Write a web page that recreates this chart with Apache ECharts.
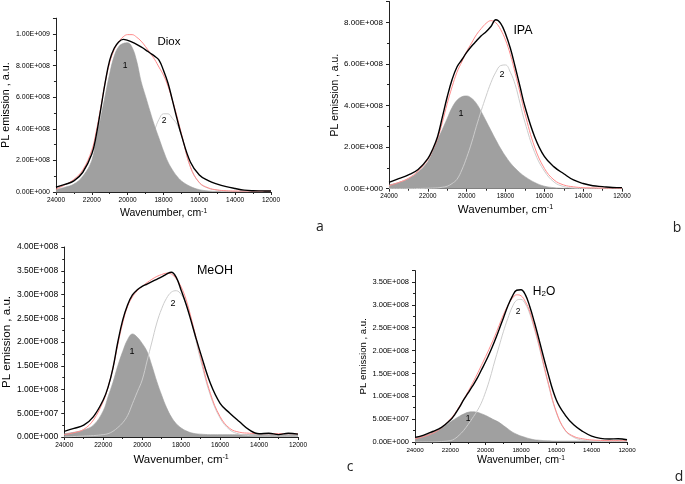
<!DOCTYPE html>
<html><head><meta charset="utf-8">
<script src="https://cdn.jsdelivr.net/npm/echarts@6/dist/echarts.min.js"></script>
<style>html,body{margin:0;padding:0;background:#fff}#c{width:685px;height:484px}</style>
</head><body><div id="c"></div>
<script>
// Wavenumber grid (cm^-1) shared by all curves
const wavenumbers = [24000,23500,23000,22500,22000,21750,21500,21250,21000,20750,20500,20250,20000,19750,19500,19250,19000,18750,18500,18250,18000,17750,17500,17250,17000,16500,16000,15500,15000,14500,14000,13500,13000,12500,12000];
const SCALE = 1e8; // values below are in units of 1E+008

// a: Diox
const dioxExp   = [0.3,0.48,0.7,1.25,2.4,3.6,5.25,6.95,8.35,9.1,9.5,9.66,9.6,9.48,9.34,9.18,9.0,8.8,8.6,8.35,7.7,6.9,5.8,4.66,3.6,1.9,1.08,0.72,0.5,0.34,0.22,0.12,0.08,0.07,0.06];
const dioxFit   = [0.18,0.45,0.8,1.4,2.65,3.85,5.35,6.95,8.2,9.0,9.5,9.82,9.96,9.96,9.8,9.55,9.2,8.8,8.4,7.9,7.4,6.7,5.8,4.8,3.7,1.6,0.6,0.26,0.13,0.08,0.06,0.06,0.06,0.06,0.06];
const dioxPeak1 = [0.15,0.3,0.5,1.0,2.0,3.4,4.7,6.1,7.5,8.6,9.2,9.4,9.45,9.15,8.3,7.0,6.05,5.1,4.2,3.4,2.6,1.9,1.4,1.0,0.7,0.35,0.15,0.07,0.03,0.015,0.01,0.01,0,0,0];
const dioxPeak2 = [0,0,0,0,0.01,0.02,0.03,0.05,0.08,0.12,0.2,0.3,0.5,0.75,1.1,1.6,2.3,3.1,3.9,4.6,4.95,4.95,4.65,4.3,3.6,1.58,0.58,0.24,0.12,0.07,0.05,0.04,0.03,0.03,0.03];

// b: IPA
const ipaExp   = [0.3,0.48,0.66,0.92,1.45,1.9,2.5,3.45,4.42,5.25,5.85,6.2,6.55,6.85,7.1,7.35,7.55,7.8,8.12,7.95,7.45,6.75,5.85,4.9,3.95,2.5,1.55,1.05,0.72,0.42,0.25,0.14,0.1,0.06,0.05];
const ipaFit   = [0.15,0.3,0.5,0.85,1.4,1.85,2.4,3.2,4.1,4.9,5.6,6.1,6.6,7.0,7.4,7.7,7.95,8.08,7.98,7.65,7.15,6.45,5.55,4.6,3.62,2.0,0.98,0.42,0.18,0.09,0.05,0.04,0.03,0.03,0.02];
const ipaPeak1 = [0.18,0.3,0.48,0.8,1.3,1.8,2.35,2.85,3.38,3.9,4.25,4.42,4.46,4.35,4.1,3.7,3.25,2.8,2.35,1.93,1.56,1.24,0.98,0.76,0.58,0.3,0.12,0.05,0.02,0.01,0,0,0,0,0];
const ipaPeak2 = [0,0,0,0.01,0.02,0.03,0.04,0.07,0.12,0.25,0.45,0.9,1.5,2.2,3.0,3.75,4.45,5.1,5.6,5.92,5.95,5.6,5.0,4.1,3.2,1.75,0.85,0.32,0.1,0.03,0.01,0,0,0,0];

// c: MeOH
const meohExp   = [0.12,0.18,0.25,0.43,0.78,1.05,1.45,2.0,2.46,2.78,2.99,3.1,3.17,3.22,3.27,3.32,3.37,3.43,3.47,3.36,3.09,2.8,2.46,2.1,1.76,1.13,0.71,0.5,0.32,0.15,0.07,0.08,0.05,0.08,0.06];
const meohFit   = [0.05,0.09,0.16,0.36,0.75,1.05,1.45,1.95,2.4,2.75,2.95,3.08,3.17,3.25,3.32,3.38,3.42,3.45,3.43,3.33,3.16,2.9,2.53,2.12,1.69,0.92,0.43,0.18,0.1,0.08,0.07,0.07,0.07,0.07,0.07];
const meohPeak1 = [0.07,0.1,0.15,0.25,0.55,0.85,1.15,1.5,1.8,2.05,2.17,2.1,1.97,1.8,1.5,1.17,0.88,0.62,0.42,0.28,0.19,0.13,0.09,0.07,0.06,0.05,0.05,0.05,0.05,0.05,0.05,0.05,0.05,0.05,0.05];
const meohPeak2 = [0,0.01,0.02,0.03,0.05,0.07,0.12,0.2,0.3,0.45,0.7,0.95,1.2,1.6,2.0,2.4,2.7,2.92,3.05,3.08,3.0,2.8,2.5,2.05,1.62,0.88,0.4,0.15,0.06,0.03,0.02,0.02,0.02,0.02,0.02];

// d: H2O
const waterExp   = [0.1,0.15,0.23,0.32,0.48,0.6,0.75,0.92,1.07,1.22,1.38,1.57,1.76,1.97,2.2,2.45,2.71,2.97,3.18,3.32,3.33,3.22,2.96,2.63,2.27,1.54,0.92,0.59,0.37,0.23,0.13,0.08,0.066,0.07,0.05];
const waterFit   = [0.07,0.12,0.19,0.31,0.5,0.62,0.77,0.93,1.1,1.28,1.47,1.67,1.87,2.08,2.3,2.54,2.78,2.98,3.14,3.22,3.2,3.07,2.85,2.52,2.16,1.36,0.66,0.26,0.12,0.07,0.045,0.035,0.03,0.03,0.03];
const waterPeak1 = [0.1,0.14,0.21,0.3,0.44,0.5,0.56,0.61,0.65,0.66,0.65,0.62,0.58,0.53,0.48,0.43,0.36,0.29,0.22,0.17,0.13,0.1,0.07,0.05,0.04,0.025,0.02,0.02,0.02,0.02,0.02,0.02,0.02,0.02,0.02];
const waterPeak2 = [0,0,0,0.01,0.03,0.07,0.15,0.25,0.38,0.52,0.67,0.85,1.1,1.4,1.75,2.08,2.41,2.7,2.95,3.1,3.12,3.02,2.8,2.48,2.12,1.33,0.64,0.25,0.1,0.04,0.02,0.01,0.01,0.01,0.01];

const panelNames = ['Diox','IPA','MeOH','H2O'];

const FONT = 'Liberation Sans, Arial, sans-serif';
function sci(v){
  if (Math.abs(v) < 1) return '0.00E+000';
  const e = Math.floor(Math.log10(Math.abs(v)) + 1e-9);
  const m = v / Math.pow(10, e);
  return m.toFixed(2) + 'E+' + String(e).padStart(3, '0');
}
function pairs(arr){ return wavenumbers.map((w,k)=>[w, arr[k]*SCALE]); }

const panels = [
  {data:[dioxExp,dioxFit,dioxPeak1,dioxPeak2], grid:{left:54,top:18.2,width:217,height:173.8}, ymax:1.1e9, yint:2e8, showMax:false,
   yFont:7, xFont:6.5, xTitle:10.5, yTitle:10.8, yGap:40, xGap:16, yMargin:6, peak2Under:true},
  {data:[ipaExp,ipaFit,ipaPeak1,ipaPeak2], grid:{left:389,top:1.5,width:233,height:187.2}, ymax:9e8, yint:2e8, showMax:false,
   yFont:8, xFont:6.3, xTitle:11.5, yTitle:10.4, yGap:44, xGap:15, yMargin:6, peak2Under:false},
  {data:[meohExp,meohFit,meohPeak1,meohPeak2], grid:{left:60,top:247,width:238,height:190}, ymax:4e8, yint:5e7, showMax:true,
   yFont:8.5, xFont:6.5, xTitle:11.5, yTitle:11.6, yGap:43, xGap:17, yMargin:6, peak2Under:false},
  {data:[waterExp,waterFit,waterPeak1,waterPeak2], grid:{left:415,top:270.6,width:212,height:171.4}, ymax:3.75e8, yint:5e7, showMax:false,
   yFont:7.5, xFont:6.2, xTitle:10.6, yTitle:9.6, yGap:39, xGap:13, yMargin:6, peak2Under:false}
];

const grids=[], xAxes=[], yAxes=[], series=[];
panels.forEach((p,i)=>{
  grids.push(Object.assign({containLabel:false}, p.grid));
  xAxes.push({
    gridIndex:i, type:'value', inverse:true, min:12000, max:24000, interval:2000,
    axisLine:{show:true, onZero:false, lineStyle:{color:'#222', width:1}},
    axisTick:{show:true, length:3, lineStyle:{color:'#222'}},
    minorTick:{show:true, splitNumber:2, length:2, lineStyle:{color:'#222'}},
    splitLine:{show:false},
    axisLabel:{fontSize:p.xFont, color:'#000', fontFamily:FONT, margin:5, formatter:v=>String(Math.round(v))},
    name:'{a|Wavenumber, cm}{b|-1}', nameLocation:'middle', nameGap:p.xGap,
    nameTextStyle:{fontFamily:FONT, color:'#000', rich:{
      a:{fontSize:p.xTitle, fontFamily:FONT, color:'#000'},
      b:{fontSize:p.xTitle*0.62, fontFamily:FONT, color:'#000', verticalAlign:'top'}}}
  });
  yAxes.push({
    gridIndex:i, type:'value', min:0, max:p.ymax, interval:p.yint,
    axisLine:{show:true, lineStyle:{color:'#222', width:1}},
    axisTick:{show:true, length:3, lineStyle:{color:'#222'}},
    minorTick:{show:true, splitNumber:2, length:2, lineStyle:{color:'#222'}},
    splitLine:{show:false},
    axisLabel:{fontSize:p.yFont, color:'#000', fontFamily:FONT, margin:p.yMargin, formatter:sci, showMaxLabel:p.showMax},
    name:'PL emission , a.u.', nameLocation:'middle', nameGap:p.yGap,
    nameTextStyle:{fontSize:p.yTitle, fontFamily:FONT, color:'#000'}
  });
  const [exp, fit, pk1, pk2] = p.data;
  const base = {type:'line', xAxisIndex:i, yAxisIndex:i, symbol:'none', smooth:0.4, animation:false, silent:true};
  series.push(Object.assign({}, base, {name:panelNames[i]+' peak 1', data:pairs(pk1), z:2,
    lineStyle:{color:'#9c9c9c', width:0.6}, areaStyle:{color:'#a0a0a0', opacity:1}}));
  series.push(Object.assign({}, base, {name:panelNames[i]+' peak 2', data:pairs(pk2), z:p.peak2Under?1:3,
    lineStyle:{color:'#cccccc', width:1}}));
  series.push(Object.assign({}, base, {name:panelNames[i]+' fit', data:pairs(fit), z:4,
    lineStyle:{color:'#ff8a8a', width:1}}));
  series.push(Object.assign({}, base, {name:panelNames[i]+' exp', data:pairs(exp), z:5,
    lineStyle:{color:'#000', width:1.4}}));
});

function txt(x, y, text, size, extra){
  return {type:'text', x:x, y:y, z:100, silent:true,
    style:Object.assign({text:text, fontSize:size, fontFamily:FONT, fill:'#000',
      align:'center', verticalAlign:'middle', textAlign:'center', textVerticalAlign:'middle'}, extra||{})};
}
const LETTER = {fontFamily:'Open Sans, sans-serif', fill:'#222'};
const graphics = [
  txt(169,42,'Diox',11.5), txt(125,66,'1',8.5), txt(164,121,'2',8.5),
  txt(523,31,'IPA',12.5), txt(461,114,'1',9), txt(502,75,'2',9),
  txt(215,271,'MeOH',12.5), txt(132,352,'1',9), txt(173,304,'2',9),
  txt(544,292,'{n|H}{s|2}{n|O}',12, {rich:{n:{fontSize:12, fontFamily:FONT, color:'#000'}, s:{fontSize:8, fontFamily:FONT, color:'#000', verticalAlign:'bottom'}}}),
  txt(468,419,'1',8.5), txt(518,312,'2',8.5),
  txt(320,227,'a',14,LETTER), txt(677,228,'b',14,LETTER),
  txt(350,467,'c',14,LETTER), txt(679,477,'d',14,LETTER)
];

const chart = echarts.init(document.getElementById('c'), null, {renderer:'canvas'});
chart.setOption({
  animation:false, backgroundColor:'#fff',
  grid:grids, xAxis:xAxes, yAxis:yAxes, series:series, graphic:graphics
});
</script></body></html>
